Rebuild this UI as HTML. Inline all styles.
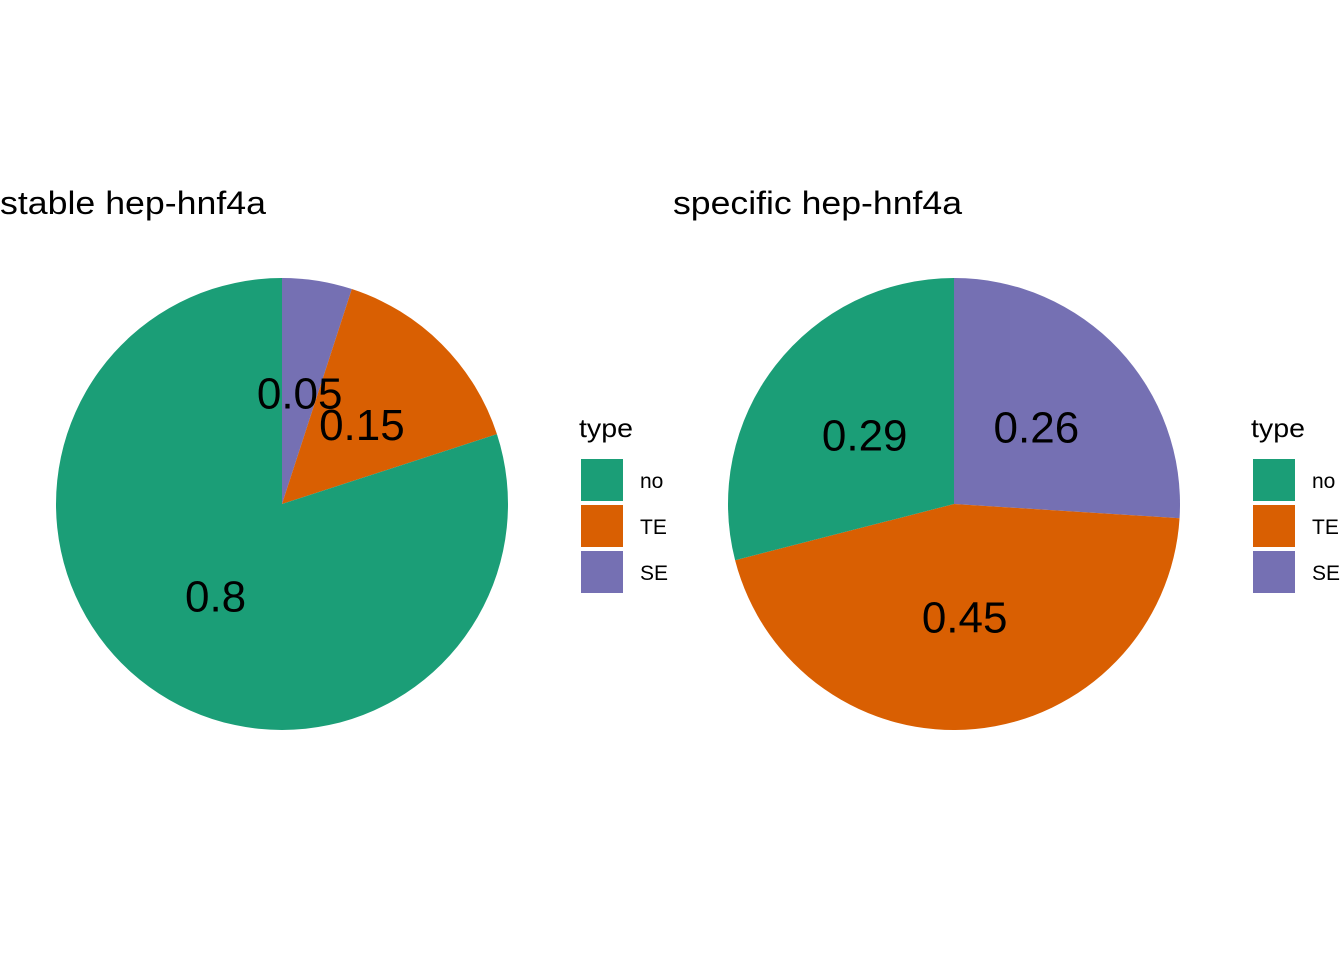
<!DOCTYPE html>
<html><head><meta charset="utf-8"><style>
html,body{margin:0;padding:0;background:#fff;}
svg{display:block;font-family:"Liberation Sans",Arial,sans-serif;}
</style></head><body>
<svg id="c" width="1344" height="960" viewBox="0 0 1344 960"></svg>
<script>
const categories = ["no", "TE", "SE"];
const panelTitles = ["stable hep-hnf4a", "specific hep-hnf4a"];
const stableValues = [0.8, 0.15, 0.05];
const specificValues = [0.29, 0.45, 0.26];
const valueLabels = [["0.8", "0.15", "0.05"], ["0.29", "0.45", "0.26"]];
const colors = {no: "#1B9E77", TE: "#D95F02", SE: "#7570B3"};
const NS = "http://www.w3.org/2000/svg";
const svg = document.getElementById('c');
function mk(tag, attrs, parent) {
  const e = document.createElementNS(NS, tag);
  for (const k in attrs) e.setAttribute(k, attrs[k]);
  (parent || svg).appendChild(e);
  return e;
}
const panels = [
  {cx: 282, cy: 504, r: 226, titleX: 0, titleW: 266, legX: 579, values: stableValues},
  {cx: 954, cy: 504, r: 226, titleX: 673, titleW: 289, legX: 1251, values: specificValues}
];
function pt(cx, cy, r, frac) {
  const a = frac * 2 * Math.PI;
  return [cx + r * Math.sin(a), cy - r * Math.cos(a)];
}
panels.forEach((p, pi) => {
  const g = mk('g', {});
  
  
  const t = mk('text', {x: p.titleX, y: 214, 'font-size': 32, fill: '#000', textLength: p.titleW, lengthAdjust: 'spacingAndGlyphs'}, g);
  t.textContent = panelTitles[pi];
  
  
  let start = 0;
  const order = [2, 1, 0];
  order.forEach(i => {
    const v = p.values[i];
    const end = start + v;
    const [x1, y1] = pt(p.cx, p.cy, p.r, start);
    const [x2, y2] = pt(p.cx, p.cy, p.r, end);
    const large = v > 0.5 ? 1 : 0;
    const path = mk('path', {d: `M${p.cx},${p.cy} L${x1},${y1} A${p.r},${p.r} 0 ${large} 1 ${x2},${y2} Z`, fill: colors[categories[i]]}, g);
    
    
    start = end;
  });
  start = 0;
  order.forEach(i => {
    const v = p.values[i];
    const [lx, ly] = pt(p.cx, p.cy, p.r * 0.5, start + v / 2);
    const lt = mk('text', {x: lx, y: ly + 16, 'font-size': 44, 'text-anchor': 'middle', fill: '#000'}, g);
    lt.textContent = valueLabels[pi][i];
    
    
    start += v;
  });
  const lg = mk('g', {}, g);
  
  
  const lt = mk('text', {x: p.legX, y: 437, 'font-size': 26, fill: '#000', textLength: 54, lengthAdjust: 'spacingAndGlyphs'}, lg);
  lt.textContent = 'type';
  
  
  categories.forEach((c, i) => {
    const y = 459 + i * 46;
    const r = mk('rect', {x: p.legX + 2, y: y, width: 42, height: 42, fill: colors[c]}, lg);
    
    
    const tx = mk('text', {x: p.legX + 61, y: y + 29, 'font-size': 21, fill: '#000'}, lg);
    tx.textContent = c;
    
    
  });
});
</script>
</body></html>
